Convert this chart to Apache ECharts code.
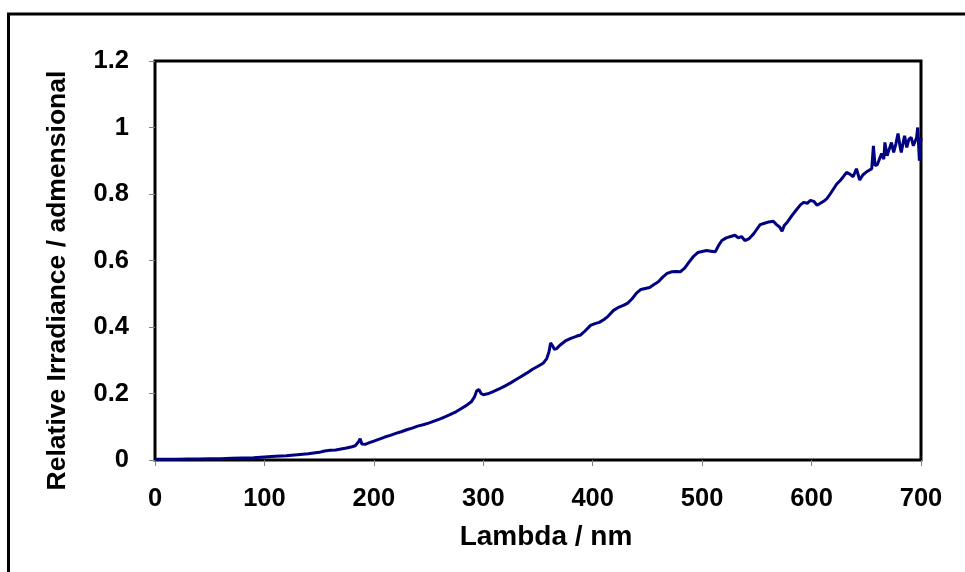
<!DOCTYPE html>
<html>
<head>
<meta charset="utf-8">
<script src="https://cdn.jsdelivr.net/npm/echarts@6/dist/echarts.min.js"></script>
<style>html,body{margin:0;padding:0;background:#fff}#c{width:965px;height:572px}</style>
</head>
<body>
<div id="c"></div>
<script>
// wavelength (nm)
var lambda = [0,10,20,30,40,50,60,70,80,90,100,110,120,130,140,150,155,160,165,170,175,180,183,186,187.5,189,192,196,200,205,210,215,220,225,230,235,240,245,250,255,260,265,270,275,280,285,289,292,294,296,298,300,304,308,312,316,320,325,330,335,340,345,350,355,358,360,361.5,363,365,367,370,375,380,385,389,393,398,402,406,410,414,419,423,428,432,436,440,444,448,452,456,460,464,468,472,476,480,484,488,492,496,500,504,508,512,515,518,522,526,530,533,536,539,543,547,550,553,557,561,565,568,571,573,575,578,582,586,590,593,596,599,602,605,608,611,614,617,620,623,626,629,632,635,638,641,644,647,650,653,655,656.5,658,660,662,664,666,667,669,671,673,675,677,679,681,682,684,685,687,689,691,693,694,696,697,698.5,700];
// relative irradiance
var irradiance = [0.002,0.002,0.002,0.003,0.003,0.004,0.004,0.005,0.006,0.007,0.009,0.011,0.013,0.016,0.019,0.023,0.027,0.029,0.030,0.033,0.036,0.040,0.043,0.055,0.064,0.048,0.047,0.052,0.057,0.063,0.069,0.074,0.080,0.085,0.091,0.096,0.102,0.106,0.111,0.117,0.123,0.130,0.137,0.145,0.155,0.165,0.175,0.190,0.208,0.212,0.200,0.196,0.199,0.204,0.210,0.216,0.223,0.232,0.242,0.252,0.262,0.273,0.282,0.292,0.305,0.325,0.352,0.345,0.333,0.335,0.345,0.358,0.366,0.372,0.376,0.388,0.405,0.410,0.414,0.422,0.432,0.450,0.458,0.465,0.472,0.485,0.502,0.513,0.516,0.519,0.528,0.536,0.550,0.561,0.566,0.567,0.566,0.577,0.595,0.612,0.624,0.627,0.630,0.628,0.626,0.645,0.660,0.668,0.672,0.676,0.668,0.672,0.660,0.666,0.680,0.694,0.708,0.712,0.716,0.718,0.708,0.700,0.688,0.705,0.716,0.735,0.752,0.768,0.775,0.772,0.781,0.778,0.766,0.772,0.778,0.786,0.800,0.815,0.830,0.840,0.852,0.865,0.860,0.852,0.876,0.842,0.858,0.866,0.872,0.876,0.945,0.885,0.888,0.905,0.922,0.905,0.955,0.915,0.935,0.955,0.925,0.950,0.982,0.940,0.925,0.960,0.975,0.940,0.965,0.970,0.945,0.940,0.970,1.000,0.900,0.970];

var xTicks = [0,100,200,300,400,500,600,700];
var yTicks = [0,0.2,0.4,0.6,0.8,1,1.2];

var seriesData = lambda.map(function(l,i){return [l, irradiance[i]];});
var font = 'Liberation Sans, Arial, sans-serif';
var chart = echarts.init(document.getElementById('c'), null, {renderer:'canvas'});
chart.setOption({
  animation:false,
  backgroundColor:'#fff',
  graphic:[{type:'rect', shape:{x:8.5,y:14,width:2000,height:2000}, style:{fill:'none', stroke:'#000', lineWidth:3}, silent:true}],
  grid:{left:155, top:61, right:44, bottom:112, show:true, borderColor:'#000', borderWidth:3, backgroundColor:'#fff'},
  xAxis:{type:'value', min:xTicks[0], max:xTicks[xTicks.length-1], interval:100,
    name:'Lambda / nm', nameLocation:'middle', nameGap:63,
    nameTextStyle:{fontFamily:font, fontWeight:'bold', fontSize:28, color:'#000', padding:[0,0,0,16]},
    axisLine:{show:false}, splitLine:{show:false},
    axisTick:{show:true, length:6, lineStyle:{color:'#808080', width:1}},
    axisLabel:{margin:26, fontFamily:font, fontWeight:'bold', fontSize:25.5, color:'#000'}},
  yAxis:{type:'value', min:yTicks[0], max:yTicks[yTicks.length-1], interval:0.2,
    name:'Relative Irradiance / admensional', nameLocation:'middle', nameGap:84, nameRotate:90,
    nameTextStyle:{fontFamily:font, fontWeight:'bold', fontSize:26.5, color:'#000', padding:[0,40,0,0]},
    axisLine:{show:false}, splitLine:{show:false},
    axisTick:{show:true, length:6, lineStyle:{color:'#808080', width:1}},
    axisLabel:{margin:26, fontFamily:font, fontWeight:'bold', fontSize:25.5, color:'#000',
      formatter:function(v){return String(Math.round(v*10)/10);}}},
  series:[{type:'line', data:seriesData, showSymbol:false, lineStyle:{color:'#000080', width:3}, z:5}]
});
</script>
</body>
</html>
